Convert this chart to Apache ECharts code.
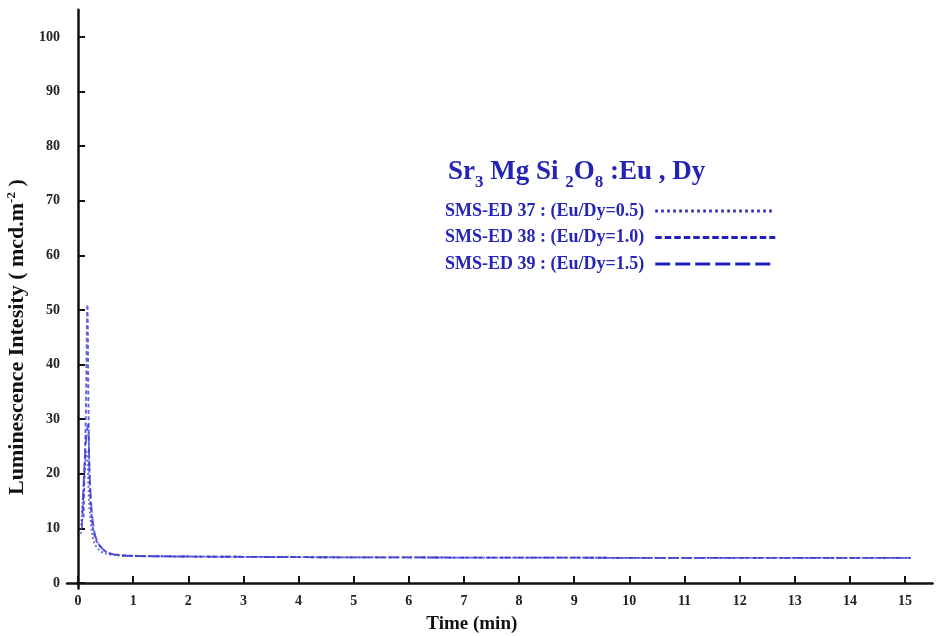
<!DOCTYPE html>
<html>
<head>
<meta charset="utf-8">
<script src="https://cdn.jsdelivr.net/npm/echarts@6/dist/echarts.min.js"></script>
<style>html,body{margin:0;padding:0;background:#fff}#c{width:938px;height:636px}</style>
</head>
<body>
<div id="c"></div>
<script>
// Tick labels
const xTicks = [0,1,2,3,4,5,6,7,8,9,10,11,12,13,14,15];
const yTicks = [0,10,20,30,40,50,60,70,80,90,100];

// Series names
const names = ['SMS-ED 37 : (Eu/Dy=0.5)', 'SMS-ED 38 : (Eu/Dy=1.0)', 'SMS-ED 39 : (Eu/Dy=1.5)'];

// Time (min)
const t37 = [0.05,0.09,0.13,0.16,0.2,0.25,0.3,0.4,0.5,0.7,1,1.5,2,3,4,5,6,7,8,9,10,11,12,13,14,15.1];
const v37 = [9,16,22,24,15,9.5,7.2,5.9,5.4,5.05,4.95,4.9,4.85,4.8,4.75,4.7,4.7,4.65,4.65,4.65,4.6,4.6,4.6,4.6,4.6,4.6];

const t38 = [0.1,0.14,0.17,0.19,0.21,0.24,0.28,0.33,0.4,0.5,0.6,0.8,1,1.5,2,3,4,5,6,7,8,9,10,11,12,13,14,15.1];
const v38 = [12,30,51,32,19,13,9.5,7.8,6.7,5.8,5.4,5.1,5.0,4.9,4.85,4.8,4.75,4.7,4.7,4.65,4.65,4.65,4.6,4.6,4.6,4.6,4.6,4.6];

const t39 = [0.07,0.11,0.15,0.18,0.21,0.25,0.3,0.36,0.45,0.55,0.7,1,1.5,2,3,4,5,6,7,8,9,10,11,12,13,14,15.1];
const v39 = [10,20,27,29,20,13,9.2,7.4,6.2,5.5,5.15,4.95,4.9,4.85,4.8,4.75,4.7,4.7,4.65,4.65,4.65,4.6,4.6,4.6,4.6,4.6,4.6];

const zip = (a, b) => a.map((x, i) => [x, b[i]]);

const serifFont = '"Liberation Serif","DejaVu Serif",serif';
const lineColor = '#3a3ad0';
const dashes = [[1.8, 2.5], [4, 2.5], [10, 4]];
const legendDashes = [[2.5, 3.5], [6.5, 3], [15, 5]];

const chart = echarts.init(document.getElementById('c'));
chart.setOption({
  animation: false,
  backgroundColor: '#fff',
  grid: { left: 67, right: 5.4, top: 9.7, bottom: 47.5, containLabel: false, outerBoundsMode: 'none' },
  title: {
    text: '{a|Sr}{s|3}{a| Mg Si }{s|2}{a|O}{s|8}{a| :Eu , Dy}',
    left: 443, top: 148,
    textStyle: {
      rich: {
        a: { fontFamily: serifFont, fontWeight: 'bold', fontSize: 27, color: '#2424b4', lineHeight: 38, verticalAlign: 'middle' },
        s: { fontFamily: serifFont, fontWeight: 'bold', fontSize: 17, color: '#2424b4', lineHeight: 14, verticalAlign: 'bottom' }
      }
    }
  },
  legend: {
    orient: 'vertical',
    left: 440, top: 196,
    align: 'right',
    icon: 'inherit',
    itemWidth: 120, itemHeight: 10, itemGap: 6.5,
    itemStyle: { opacity: 0 },
    lineStyle: { width: 2.8, color: '#2020c0', opacity: 1 },
    textStyle: { fontFamily: serifFont, fontWeight: 'bold', fontSize: 18, lineHeight: 20, color: '#2525b8', padding: [0, 6, 0, 0] },
    data: names.map((n, i) => ({ name: n, lineStyle: { type: legendDashes[i], width: 2.8, color: '#2020c0' } }))
  },
  xAxis: {
    type: 'value', min: -0.2, max: 15.5,
    name: 'Time (min)', nameLocation: 'middle', nameGap: 26,
    nameTextStyle: { fontFamily: serifFont, fontWeight: 'bold', fontSize: 19, color: '#111', padding: [0, 56, 0, 0] },
    axisLine: { onZero: true, lineStyle: { color: '#111', width: 2.5 } },
    axisTick: { inside: true, length: 7, lineStyle: { width: 2, color: '#111' }, customValues: xTicks },
    axisLabel: { customValues: xTicks, margin: 6, fontFamily: serifFont, fontWeight: 'bold', fontSize: 14, color: '#222' },
    splitLine: { show: false }
  },
  yAxis: {
    type: 'value', min: -1, max: 105,
    name: '{a|Luminescence Intesity ( mcd.m}{sup|-2}{a| )}',
    nameLocation: 'middle', nameGap: 33, nameRotate: 90,
    nameTextStyle: {
      padding: [0, 76, 0, 0],
      rich: {
        a: { fontFamily: serifFont, fontWeight: 'bold', fontSize: 22, color: '#111', lineHeight: 24, verticalAlign: 'middle' },
        sup: { fontFamily: serifFont, fontWeight: 'bold', fontSize: 13, color: '#111', lineHeight: 14, verticalAlign: 'top' }
      }
    },
    axisLine: { onZero: true, lineStyle: { color: '#111', width: 2.5 } },
    axisTick: { inside: true, length: 7, lineStyle: { width: 2, color: '#111' }, customValues: yTicks },
    axisLabel: { customValues: yTicks, margin: 7, fontFamily: serifFont, fontWeight: 'bold', fontSize: 14, color: '#222' },
    splitLine: { show: false }
  },
  series: [
    { name: names[0], data: zip(t37, v37) },
    { name: names[1], data: zip(t38, v38) },
    { name: names[2], data: zip(t39, v39) }
  ].map((s, i) => Object.assign(s, {
    type: 'line', symbol: 'none', smooth: 0.3,
    color: lineColor,
    lineStyle: { color: lineColor, width: 1.9, type: dashes[i], opacity: 0.8 }
  }))
});
</script>
</body>
</html>
